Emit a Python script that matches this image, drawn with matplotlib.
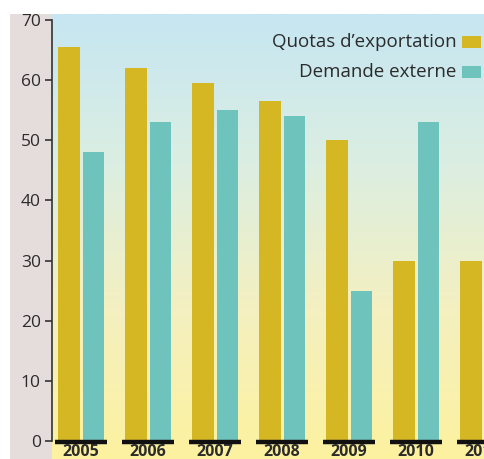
import matplotlib
matplotlib.use('Agg')
import matplotlib.pyplot as plt
import numpy as np
from matplotlib.colors import LinearSegmentedColormap
from matplotlib.patches import Rectangle

plt.rcParams["font.family"] = ["Open Sans", "DejaVu Sans"]

years = ['2005', '2006', '2007', '2008', '2009', '2010', '2011']
quotas = [65.5, 62, 59.5, 56.5, 50, 30, 30]
demande = [48, 53, 55, 54, 25, 53, 0]
y_ticks = [0, 10, 20, 30, 40, 50, 60, 70]
labels = ['Quotas d\u2019exportation', 'Demande externe']

gold = '#d4b723'
teal = '#6fc3bd'
text_col = '#2b2b2b'

W, H = 484, 459
fig = plt.figure(figsize=(W / 100, H / 100), dpi=100)
fig.patch.set_facecolor('white')

# grey side panel left of the axis
fig.patches.append(Rectangle((10 / W, 0), 42 / W, 1 - 14 / H, transform=fig.transFigure,
                             facecolor='#e5dddb', edgecolor='none', zorder=-5))

ax = fig.add_axes([52 / W, 0, 1 - 52 / W, 1 - 14 / H])
ax.set_zorder(2)
ax.set_xlim(-0.433, 6.015)
ax.set_ylim(-3, 71)

# background gradient: light blue at top, pale yellow at bottom
cmap = LinearSegmentedColormap.from_list('bg', ['#fdf29f', '#f4f0c0', '#dbeee2', '#c6e6f2'])
grad = np.linspace(0, 1, 256).reshape(-1, 1)
ax.imshow(grad, aspect='auto', cmap=cmap, origin='lower',
          extent=[-0.433, 6.015, -3, 71], zorder=0)

x = np.arange(len(years))
bw = 0.32
ax.bar(x - 0.18, quotas, width=bw, color=gold, zorder=2)
ax.bar(x + 0.19, demande, width=bw, color=teal, zorder=2)

# black base segments under each group
for xi in x:
    ax.plot([xi - 0.39, xi + 0.39], [-0.2, -0.2], color='#111111', lw=3.2,
            solid_capstyle='butt', zorder=3, clip_on=False)
    ax.text(xi, -0.55, years[xi], ha='center', va='top', fontsize=11.5,
            fontweight='bold', color=text_col, zorder=4, clip_on=False)

for s in ['top', 'right', 'bottom']:
    ax.spines[s].set_visible(False)
ax.spines['left'].set_bounds(0, 70)
ax.spines['left'].set_color('#333333')
ax.spines['left'].set_linewidth(1.2)
ax.set_yticks(y_ticks)
ax.tick_params(axis='y', direction='out', length=5, width=1.2, color='#333333',
               labelsize=12.5, labelcolor=text_col, pad=3)
ax.set_xticks([])

# legend drawn as text with coloured squares
ax.text(0.937, 0.937, labels[0], transform=ax.transAxes, ha='right', va='center',
        fontsize=13.5, color=text_col)
ax.text(0.937, 0.87, labels[1], transform=ax.transAxes, ha='right', va='center',
        fontsize=13.5, color=text_col)
ax.add_patch(Rectangle((0.948, 0.924), 0.044, 0.027, transform=ax.transAxes,
                       facecolor=gold, edgecolor='none', zorder=5))
ax.add_patch(Rectangle((0.948, 0.857), 0.044, 0.027, transform=ax.transAxes,
                       facecolor=teal, edgecolor='none', zorder=5))

fig.savefig('out.png', dpi=100)
